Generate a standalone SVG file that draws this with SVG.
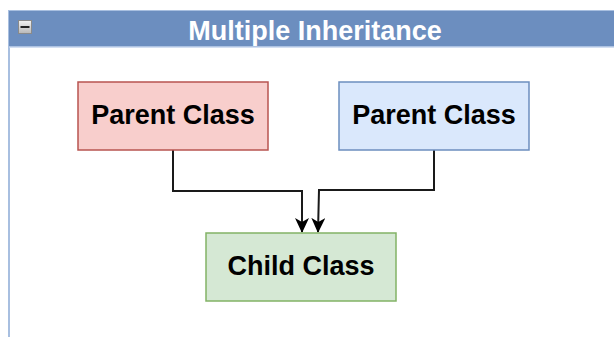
<svg xmlns="http://www.w3.org/2000/svg" width="614" height="337" viewBox="0 0 614 337">
<style>
.lbl{font-family:"Liberation Sans",Arial,Helvetica,sans-serif;font-weight:bold;font-size:27px;text-anchor:middle}
.edge{fill:none;stroke:#1a1a1a;stroke-width:2}
</style>
<defs>
<marker id="arr" viewBox="0 0 15 14" refX="14" refY="7" markerWidth="15" markerHeight="14" markerUnits="userSpaceOnUse" orient="auto">
<path d="M0,0 L15,7 L0,14 L4,7 Z" fill="#000"/>
</marker>
<linearGradient id="ic" x1="0" y1="0" x2="0" y2="1">
<stop offset="0" stop-color="#f2f2f2"/><stop offset="1" stop-color="#b8b8b8"/>
</linearGradient>
</defs>
<rect width="614" height="337" fill="#fff"/>
<g id="container">
<rect x="9" y="11" width="610" height="340" fill="#fff" stroke="#a8bfe0" stroke-width="2"/>
<rect x="9" y="11" width="610" height="36" fill="#6c8ebf"/>
<line x1="9" y1="47" x2="614" y2="47" stroke="#c5d5ee" stroke-width="1.5"/>
<rect x="18.5" y="20.5" width="13" height="13" fill="url(#ic)" stroke="#8a8a8a" stroke-width="1"/>
<line x1="20.5" y1="27" x2="29.5" y2="27" stroke="#222" stroke-width="2"/>
<text class="lbl" x="315" y="40" fill="#fff">Multiple Inheritance</text>
</g>
<g id="connectors">
<path class="edge" d="M173,150 V191 H302 V232" marker-end="url(#arr)"/>
<path class="edge" d="M434,150 V190 H319 L318,232" marker-end="url(#arr)"/>
</g>
<g id="parent1">
<rect x="78" y="82" width="190" height="68" fill="#f8cecc" stroke="#b85450" stroke-width="1.5"/>
<text class="lbl" x="173" y="124">Parent Class</text>
</g>
<g id="parent2">
<rect x="339" y="82" width="190" height="68" fill="#dae8fc" stroke="#6c8ebf" stroke-width="1.5"/>
<text class="lbl" x="434" y="124">Parent Class</text>
</g>
<g id="child">
<rect x="206" y="233" width="190" height="68" fill="#d5e8d4" stroke="#82b366" stroke-width="1.5"/>
<text class="lbl" x="301" y="275">Child Class</text>
</g>
</svg>
